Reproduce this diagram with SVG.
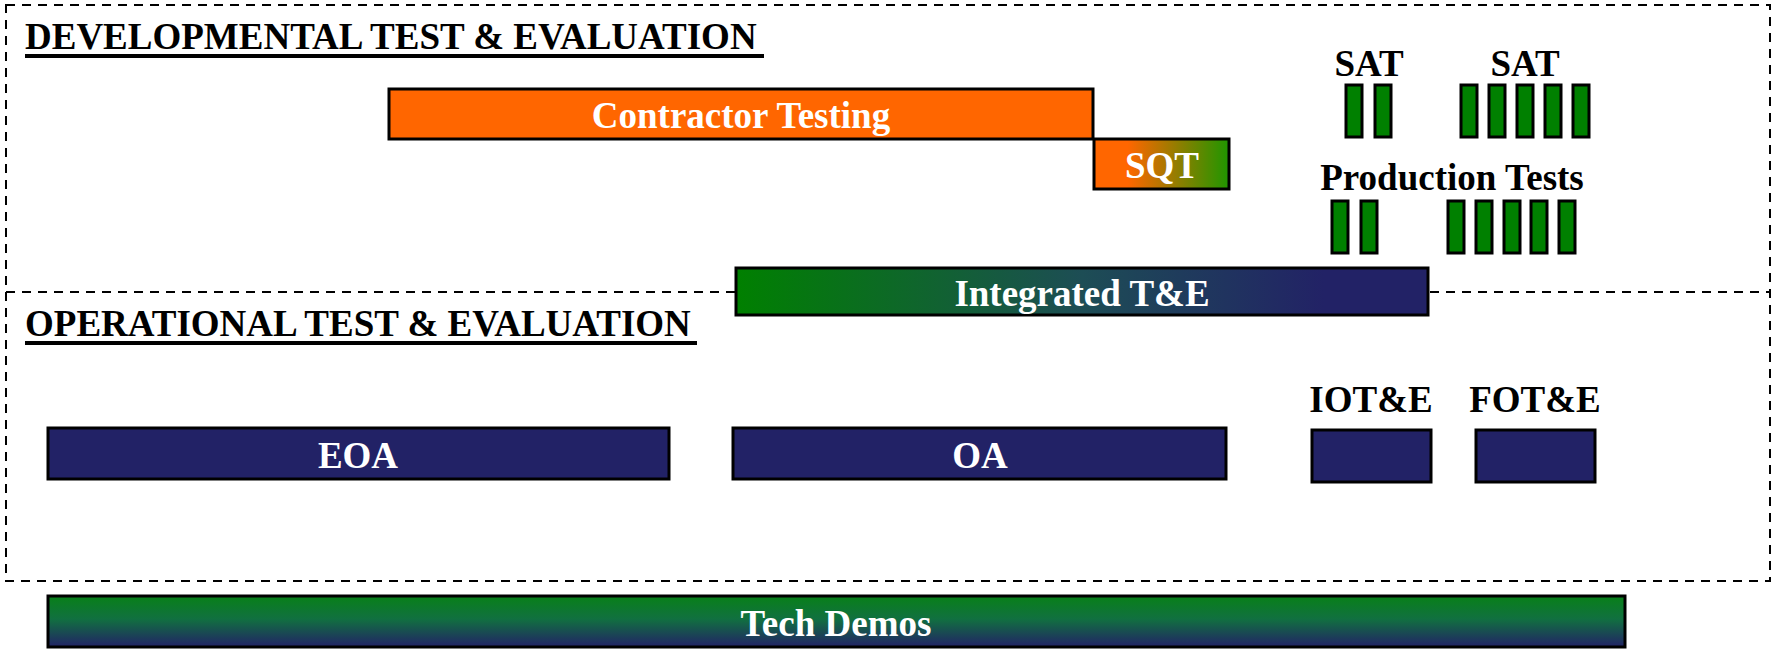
<svg xmlns="http://www.w3.org/2000/svg" width="1779" height="649" viewBox="0 0 1779 649">
<style>
.t{font-family:"Liberation Serif","Times New Roman",serif;font-weight:bold;font-size:37px}
.w{fill:#ffffff;text-anchor:middle}
.k{fill:#000000}
.c{text-anchor:middle}
.box{stroke:#000;stroke-width:3}
.bar{fill:#008000;stroke:#000;stroke-width:3}
.dash{fill:none;stroke:#000;stroke-width:2;stroke-dasharray:9 7}
.ul{stroke:#000;stroke-width:4}
</style>
<defs>
<linearGradient id="gSqt" x1="0" y1="0" x2="1" y2="0">
<stop offset="0" stop-color="#ff6600"/><stop offset="0.25" stop-color="#ff6600"/><stop offset="1" stop-color="#1f9600"/>
</linearGradient>
<linearGradient id="gInt" x1="0" y1="0" x2="1" y2="0">
<stop offset="0" stop-color="#008000"/><stop offset="0.5" stop-color="#1d4d55"/><stop offset="0.85" stop-color="#222266"/><stop offset="1" stop-color="#222266"/>
</linearGradient>
<linearGradient id="gTech" x1="0" y1="0" x2="0" y2="1">
<stop offset="0" stop-color="#088018"/><stop offset="0.45" stop-color="#117040"/><stop offset="1" stop-color="#222266"/>
</linearGradient>
</defs>
<g id="frames">
<rect class="dash" x="6" y="5" width="1764" height="576"/>
<line class="dash" x1="6" y1="292" x2="1770" y2="292"/>
</g>
<g id="dte-title">
<text class="t k" x="25" y="49">DEVELOPMENTAL TEST &amp; EVALUATION</text>
<line class="ul" x1="25" y1="56" x2="764" y2="56"/>
</g>
<g id="ote-title">
<text class="t k" x="25" y="336">OPERATIONAL TEST &amp; EVALUATION</text>
<line class="ul" x1="25" y1="343" x2="697" y2="343"/>
</g>
<g id="contractor">
<rect class="box" x="389" y="89" width="704" height="50" fill="#ff6600"/>
<text class="t w" x="741" y="128">Contractor Testing</text>
</g>
<g id="sqt">
<rect class="box" x="1094" y="139" width="135" height="50" fill="url(#gSqt)"/>
<text class="t w" x="1162" y="178">SQT</text>
</g>
<g id="sat1">
<text class="t k c" x="1369" y="76">SAT</text>
<rect class="bar" x="1346" y="85" width="16" height="52"/>
<rect class="bar" x="1375" y="85" width="16" height="52"/>
</g>
<g id="sat2">
<text class="t k c" x="1525" y="76">SAT</text>
<rect class="bar" x="1461" y="85" width="16" height="52"/>
<rect class="bar" x="1489" y="85" width="16" height="52"/>
<rect class="bar" x="1517" y="85" width="16" height="52"/>
<rect class="bar" x="1545" y="85" width="16" height="52"/>
<rect class="bar" x="1573" y="85" width="16" height="52"/>
</g>
<g id="production">
<text class="t k c" x="1452" y="190">Production Tests</text>
<rect class="bar" x="1332" y="201" width="16" height="52"/>
<rect class="bar" x="1361" y="201" width="16" height="52"/>
<rect class="bar" x="1448" y="201" width="16" height="52"/>
<rect class="bar" x="1476" y="201" width="16" height="52"/>
<rect class="bar" x="1504" y="201" width="16" height="52"/>
<rect class="bar" x="1531" y="201" width="16" height="52"/>
<rect class="bar" x="1559" y="201" width="16" height="52"/>
</g>
<g id="integrated">
<rect class="box" x="736" y="268" width="692" height="47" fill="url(#gInt)"/>
<text class="t w" x="1082" y="306">Integrated T&amp;E</text>
</g>
<g id="eoa">
<rect class="box" x="48" y="428" width="621" height="51" fill="#222266"/>
<text class="t w" x="358" y="468">EOA</text>
</g>
<g id="oa">
<rect class="box" x="733" y="428" width="493" height="51" fill="#222266"/>
<text class="t w" x="980" y="468">OA</text>
</g>
<g id="iote">
<text class="t k c" x="1371" y="412">IOT&amp;E</text>
<rect class="box" x="1312" y="430" width="119" height="52" fill="#222266"/>
</g>
<g id="fote">
<text class="t k c" x="1535" y="412">FOT&amp;E</text>
<rect class="box" x="1476" y="430" width="119" height="52" fill="#222266"/>
</g>
<g id="techdemos">
<rect class="box" x="48" y="596" width="1577" height="51" fill="url(#gTech)"/>
<text class="t w" x="836" y="636">Tech Demos</text>
</g>
<g id="connectors"></g>
</svg>
